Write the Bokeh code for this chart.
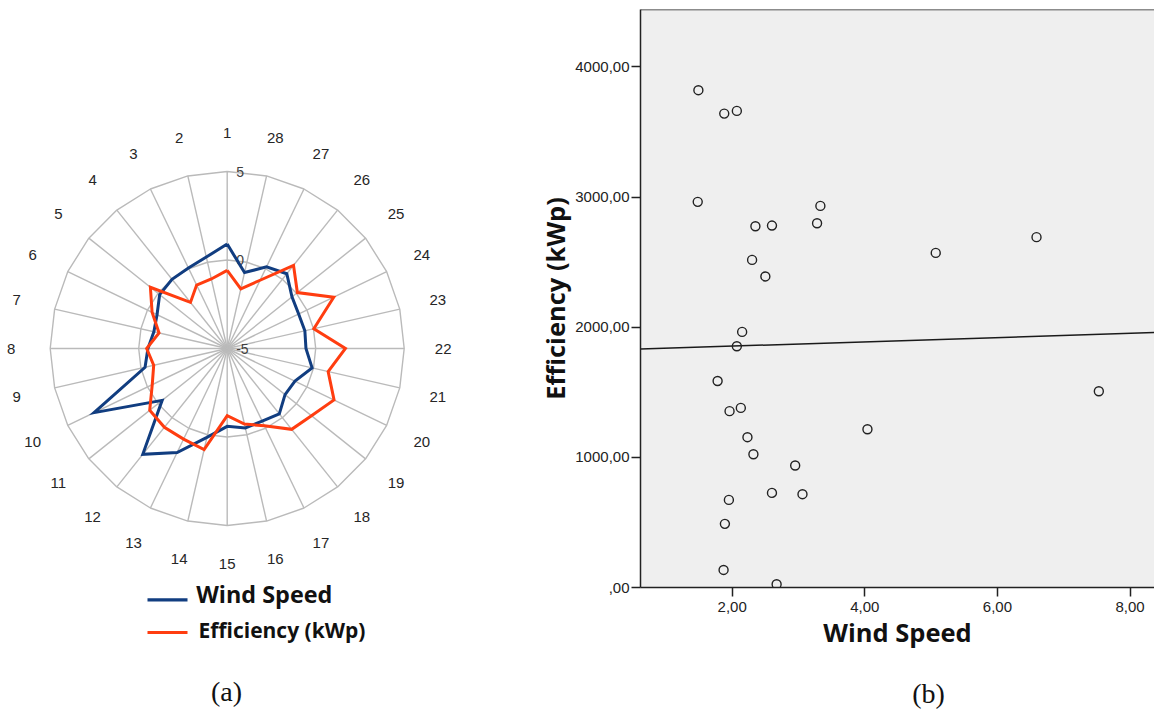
import math
import numpy as np
from bokeh.plotting import figure
from bokeh.layouts import row, column
from bokeh.models import Range1d, Span, FixedTicker
from bokeh.core.properties import value
from bokeh.embed import file_html
from bokeh.resources import INLINE

# ---------------- data: (a) radar ----------------
days = [str(d) for d in range(1, 29)]
wind_speed = [0.9, 0.3, 0.05, 0.0, -0.12, -0.6, -0.75, -0.52, -0.24, 3.35,
              -0.3, 2.65, 1.52, 0.15, -0.6, -0.4, -0.45, -0.28, -0.82, -0.75,
              -0.08, -0.55, -0.5, -0.52, -0.32, 0.4, 0.12, -0.6]
efficiency = [-0.59, -0.97, -1.02, -1.67, 0.55, -0.29, -1.05, -0.45, -0.74, -0.3,
              0.6, 0.69, 0.68, 0.86, -1.21, -0.62, -0.15, 0.84, 1.09, 1.7,
              0.85, 1.68, 0.02, 1.68, 0.07, 1.01, -0.72, -1.54]
radial_ticks = [-5, 0, 5]
series_names = ["Wind Speed", "Efficiency (kWp)"]
series_colors = ["#113d80", "#ff3d10"]

# ---------------- data: (b) scatter ----------------
scatter_wind = [1.49, 1.88, 2.07, 1.48, 3.33, 2.35, 2.60, 3.28, 6.59, 5.07,
                2.30, 2.50, 2.15, 2.07, 1.78, 7.53, 2.13, 1.96, 4.04, 2.23,
                2.32, 2.95, 2.60, 3.06, 1.95, 1.89, 1.87, 2.67]
scatter_eff = [3821, 3641, 3662, 2963, 2932, 2776, 2781, 2799, 2692, 2571,
               2517, 2390, 1964, 1854, 1587, 1508, 1380, 1355, 1216, 1155,
               1024, 937, 727, 717, 673, 489, 135, 25]
x_ticks = [2, 4, 6, 8]
x_tick_labels = ["2,00", "4,00", "6,00", "8,00"]
y_ticks = [0, 1000, 2000, 3000, 4000]
y_tick_labels = [",00", "1000,00", "2000,00", "3000,00", "4000,00"]
x_title = "Wind Speed"
y_title = "Efficiency (kWp)"
captions = ["(a)", "(b)"]

# ---------------- layout constants (page pixels) ----------------
H = 712
LEFT_W = 530
RIGHT_W = 624
CX, CY, R = 226.7, 348.0, 177.0      # radar centre and outer radius

LABEL_FONT = "Liberation Sans"
BOLD_FONT = "Open Sans"
SERIF_FONT = "Liberation Serif"


def to_a(px, py):
    return (px - CX) / R, (CY - py) / R


def no_frame_align(p):
    if "frame_align" in p.properties():
        p.frame_align = False


# ======================= (a) radar =======================
pa = figure(width=LEFT_W, height=H,
            x_range=Range1d((0 - CX) / R, (LEFT_W - CX) / R),
            y_range=Range1d((CY - H) / R, CY / R),
            x_axis_location=None, y_axis_location=None,
            toolbar_location=None, output_backend="svg",
            min_border=0, outline_line_color=None,
            background_fill_color="white", border_fill_color="white")
pa.grid.visible = False
no_frame_align(pa)

rmin, rmax = radial_ticks[0], radial_ticks[-1]
N = len(days)
angles = [math.pi / 2 + i * 2 * math.pi / N for i in range(N)]


def rad(v):
    return (v - rmin) / (rmax - rmin)


grid_color = "#bababa"
# spokes
pa.multi_line(xs=[[0, math.cos(a)] for a in angles],
              ys=[[0, math.sin(a)] for a in angles],
              line_color=grid_color, line_width=1.4)
# rings
ring_xs, ring_ys = [], []
for t in radial_ticks[1:]:
    rr = rad(t)
    xs = [rr * math.cos(a) for a in angles]
    ys = [rr * math.sin(a) for a in angles]
    ring_xs.append(xs + xs[:1])
    ring_ys.append(ys + ys[:1])
pa.multi_line(xs=ring_xs, ys=ring_ys, line_color=grid_color, line_width=1.4)

# radial value labels
pa.text(x=[0] * len(radial_ticks), y=[rad(t) for t in radial_ticks],
        text=[str(t) for t in radial_ticks], x_offset=9,
        text_font=value(LABEL_FONT), text_font_size="14px",
        text_color="#404040", text_align="left", text_baseline="middle")

# category labels
LAB_R = 1.22
pa.text(x=[LAB_R * math.cos(a) for a in angles],
        y=[LAB_R * math.sin(a) for a in angles],
        text=days, text_font=value(LABEL_FONT), text_font_size="15px",
        text_color="#262626", text_align="center", text_baseline="middle")

# series
for vals, col in zip([wind_speed, efficiency], series_colors):
    xs = [rad(v) * math.cos(a) for v, a in zip(vals, angles)]
    ys = [rad(v) * math.sin(a) for v, a in zip(vals, angles)]
    pa.line(xs + xs[:1], ys + ys[:1], line_color=col, line_width=3,
            line_join="miter")

# legend (manual): line y, text middle y, font size, text left x
leg_rows = [(599.3, 593.0, "23.4px", 195.7), (632.0, 629.0, "21px", 198.0)]
for (ly, my, fs, tx), name, col in zip(leg_rows, series_names, series_colors):
    x0, y0 = to_a(147, ly)
    x1, _ = to_a(187, ly)
    pa.line([x0, x1], [y0, y0], line_color=col, line_width=3.2)
    tx_, ty_ = to_a(tx, my)
    pa.text(x=[tx_], y=[ty_], text=[name], text_font=value(BOLD_FONT),
            text_font_style="bold", text_font_size=fs, text_color="#111111",
            text_align="left", text_baseline="middle")

cx_, cy_ = to_a(226, 691)
pa.text(x=[cx_], y=[cy_], text=[captions[0]], text_font=value(SERIF_FONT),
        text_font_size="28px", text_color="#111111", text_align="center",
        text_baseline="middle")

# ======================= (b) scatter =======================
XPU = 66.3          # px per wind unit
YPU = 0.13015       # px per efficiency unit
HB = 652            # scatter figure height
HCAP = H - HB       # caption strip height
BORDER_L = 110
BORDER_T = 9
BORDER_B = 65
FRAME_L = LEFT_W + BORDER_L   # page px
X0 = 2 - (731.7 - FRAME_L) / XPU
X1 = X0 + (RIGHT_W - BORDER_L) / XPU
Y1 = (HB - BORDER_T - BORDER_B) / YPU

pb = figure(width=RIGHT_W, height=HB,
            x_range=Range1d(X0, X1), y_range=Range1d(0, Y1),
            toolbar_location=None, output_backend="svg",
            min_border_left=BORDER_L, min_border_right=0,
            min_border_top=BORDER_T, min_border_bottom=BORDER_B,
            background_fill_color="#efefef", border_fill_color="white",
            outline_line_color=None)
pb.grid.visible = False
no_frame_align(pb)

# regression line from the data
slope, intercept = np.polyfit(scatter_wind, scatter_eff, 1)
pb.line([X0, X1], [intercept + slope * X0, intercept + slope * X1],
        line_color="#1a1a1a", line_width=1.5)

pb.scatter(scatter_wind, scatter_eff, marker="circle", size=9,
           fill_color=None, line_color="#222222", line_width=1.4)

for ax, ticks, labels in [(pb.xaxis[0], x_ticks, x_tick_labels),
                          (pb.yaxis[0], y_ticks, y_tick_labels)]:
    ax.ticker = FixedTicker(ticks=ticks)
    ax.major_label_overrides = {t: l for t, l in zip(ticks, labels)}
    ax.minor_tick_line_color = None
    ax.major_tick_in = 0
    ax.major_tick_out = 9
    ax.major_tick_line_width = 1.5
    ax.major_tick_line_color = "#222222"
    ax.axis_line_width = 1.5
    ax.axis_line_color = "#222222"
    ax.major_label_text_font = LABEL_FONT
    ax.major_label_text_font_size = "15px"
    ax.major_label_text_color = "#222222"
    ax.axis_label_text_font = BOLD_FONT
    ax.axis_label_text_font_style = "bold"
    ax.axis_label_text_font_size = "25.5px"
    ax.axis_label_text_color = "#111111"
    ax.axis_label_standoff = 0
pb.xaxis.major_label_standoff = 5
pb.yaxis.major_label_standoff = 2
pb.xaxis.axis_label = x_title
pb.yaxis.axis_label = y_title

pb.add_layout(Span(location=Y1, dimension="width", line_color="#222222",
                   line_width=1.5))

# caption strip under the scatter (pixel coordinates)
pcap = figure(width=RIGHT_W, height=HCAP,
              x_range=Range1d(0, RIGHT_W), y_range=Range1d(0, HCAP),
              x_axis_location=None, y_axis_location=None,
              toolbar_location=None, output_backend="svg",
              min_border=0, outline_line_color=None,
              background_fill_color="white", border_fill_color="white")
pcap.grid.visible = False
no_frame_align(pcap)
pcap.text(x=[928 - LEFT_W], y=[HCAP - (693 - HB)], text=[captions[1]],
          text_font=value(SERIF_FONT), text_font_size="28px",
          text_color="#111111", text_align="center", text_baseline="middle")

layout = row(pa, column(pb, pcap))
open("out.html", "w").write(file_html(layout, INLINE))
